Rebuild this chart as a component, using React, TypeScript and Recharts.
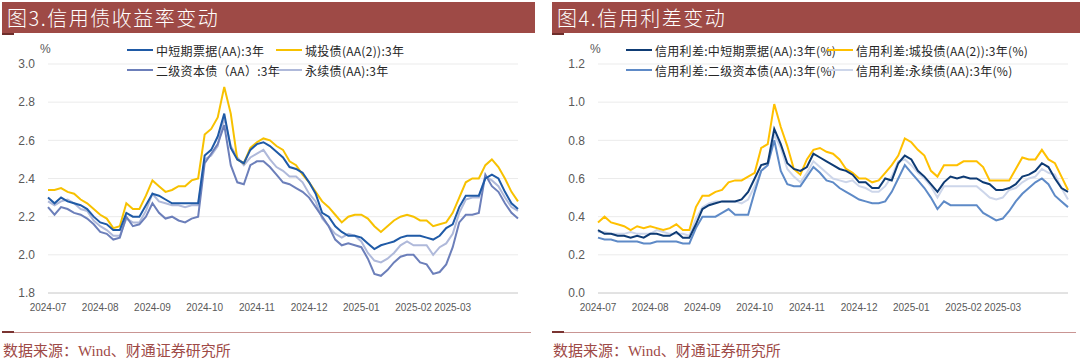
import React from 'react';
import { LineChart, Line, XAxis, YAxis, CartesianGrid } from 'recharts';

// x positions: one point every ~2-3 trading days, month starts at these indexes
const MONTHS = ['2024-07', '2024-08', '2024-09', '2024-10', '2024-11', '2024-12', '2025-01', '2025-02', '2025-03'];
const MONTH_START = [0, 8, 16, 24, 32, 40, 48, 56, 62];

// 图3 yields (%)
const L_MTN = [
  2.30, 2.27, 2.30, 2.28, 2.27, 2.26, 2.24, 2.20,
  2.17, 2.16, 2.13, 2.13, 2.22, 2.20, 2.20, 2.26,
  2.32, 2.31, 2.29, 2.27, 2.27, 2.27, 2.27, 2.27,
  2.52, 2.55, 2.62, 2.74, 2.56, 2.50, 2.48, 2.55,
  2.58, 2.59, 2.57, 2.54, 2.51, 2.46, 2.45, 2.43,
  2.38, 2.32, 2.22, 2.20, 2.15, 2.12, 2.10, 2.10,
  2.09, 2.06, 2.03, 2.05, 2.06, 2.07, 2.09, 2.10,
  2.10, 2.10, 2.09, 2.08, 2.10, 2.14,
  2.16, 2.25, 2.31, 2.31, 2.31, 2.40, 2.42, 2.40, 2.33, 2.27, 2.24,
];
const L_LGFV = [
  2.34, 2.34, 2.35, 2.33, 2.32, 2.29, 2.27, 2.24,
  2.21, 2.19, 2.14, 2.15, 2.27, 2.24, 2.24, 2.31,
  2.39, 2.36, 2.33, 2.34, 2.36, 2.36, 2.39, 2.40,
  2.63, 2.66, 2.72, 2.88, 2.74, 2.50, 2.48, 2.56,
  2.59, 2.61, 2.60, 2.57, 2.55, 2.49, 2.47, 2.42,
  2.38, 2.33, 2.28, 2.25, 2.21, 2.17, 2.20, 2.21,
  2.21, 2.19, 2.15, 2.12, 2.15, 2.18, 2.20, 2.21,
  2.20, 2.18, 2.18, 2.15, 2.16, 2.17,
  2.22, 2.30, 2.38, 2.40, 2.40, 2.47, 2.50, 2.46, 2.40, 2.33, 2.28,
];
const L_TIER2 = [
  2.25, 2.21, 2.25, 2.24, 2.22, 2.21, 2.19, 2.16,
  2.12, 2.11, 2.08, 2.09, 2.20, 2.15, 2.16, 2.20,
  2.27, 2.22, 2.19, 2.20, 2.18, 2.17, 2.19, 2.20,
  2.48, 2.53, 2.58, 2.68, 2.47, 2.38, 2.37, 2.47,
  2.49, 2.49, 2.46, 2.42, 2.38, 2.37, 2.35, 2.33,
  2.30, 2.25, 2.20, 2.15, 2.08, 2.05, 2.06, 2.05,
  2.04, 1.98, 1.90, 1.89, 1.92, 1.96, 1.99, 2.00,
  2.00, 1.96, 1.95, 1.90, 1.91, 1.95,
  2.04, 2.17, 2.21, 2.21, 2.22, 2.42, 2.36, 2.33, 2.27, 2.22, 2.19,
];
const L_PERP = [
  2.28, 2.26, 2.28, 2.29, 2.27, 2.24, 2.23, 2.18,
  2.15, 2.13, 2.10, 2.10, 2.19, 2.17, 2.17, 2.23,
  2.32, 2.28, 2.27, 2.26, 2.26, 2.25, 2.26, 2.26,
  2.50, 2.52, 2.57, 2.72, 2.57, 2.51, 2.47, 2.51,
  2.53, 2.55, 2.50, 2.46, 2.44, 2.41, 2.41, 2.38,
  2.32, 2.28, 2.19, 2.15, 2.11, 2.09, 2.11, 2.10,
  2.07, 2.01, 1.97, 1.96, 1.98, 2.01, 2.05, 2.07,
  2.05, 2.05, 2.05, 2.00, 2.04, 2.06,
  2.11, 2.22, 2.29, 2.30, 2.30, 2.41, 2.39, 2.36, 2.30, 2.25, 2.23,
];

// 图4 credit spreads (%)
const R_MTN = [
  0.33, 0.31, 0.31, 0.30, 0.30, 0.29, 0.30, 0.29,
  0.31, 0.31, 0.30, 0.30, 0.32, 0.29, 0.29, 0.36,
  0.44, 0.46, 0.47, 0.48, 0.48, 0.48, 0.49, 0.53,
  0.60, 0.67, 0.68, 0.86, 0.78, 0.68, 0.65, 0.64,
  0.66, 0.73, 0.71, 0.69, 0.67, 0.65, 0.64, 0.62,
  0.58, 0.58, 0.55, 0.55, 0.60, 0.59, 0.68, 0.72,
  0.70, 0.64, 0.61, 0.57, 0.53, 0.58, 0.61, 0.60,
  0.61, 0.60, 0.60, 0.58, 0.57, 0.54,
  0.54, 0.55, 0.57, 0.61, 0.62, 0.64, 0.68, 0.66, 0.60, 0.55, 0.53,
];
const R_LGFV = [
  0.37, 0.40, 0.37, 0.36, 0.35, 0.33, 0.35, 0.34,
  0.35, 0.34, 0.33, 0.34, 0.36, 0.33, 0.33, 0.45,
  0.51, 0.51, 0.53, 0.54, 0.58, 0.59, 0.59, 0.61,
  0.63, 0.76, 0.78, 0.99, 0.87, 0.77, 0.65, 0.62,
  0.70, 0.75, 0.76, 0.74, 0.73, 0.70, 0.65, 0.63,
  0.60, 0.60, 0.58, 0.59, 0.63, 0.67, 0.72, 0.81,
  0.79, 0.75, 0.72, 0.64, 0.61, 0.67, 0.67, 0.67,
  0.69, 0.69, 0.69, 0.66, 0.59, 0.59,
  0.59, 0.59, 0.65, 0.71, 0.70, 0.70, 0.75, 0.70, 0.68, 0.61, 0.54,
];
const R_TIER2 = [
  0.29, 0.28, 0.28, 0.27, 0.27, 0.27, 0.27, 0.26,
  0.26, 0.27, 0.27, 0.27, 0.27, 0.26, 0.26, 0.34,
  0.40, 0.40, 0.40, 0.42, 0.44, 0.41, 0.41, 0.41,
  0.53, 0.64, 0.67, 0.80, 0.64, 0.57, 0.56, 0.56,
  0.61, 0.66, 0.63, 0.59, 0.58, 0.55, 0.53, 0.51,
  0.49, 0.48, 0.47, 0.47, 0.48, 0.53, 0.60, 0.67,
  0.63, 0.59, 0.55, 0.50, 0.44, 0.48, 0.46, 0.46,
  0.46, 0.46, 0.46, 0.42, 0.40, 0.38,
  0.39, 0.43, 0.48, 0.52, 0.55, 0.58, 0.60, 0.57, 0.51, 0.48, 0.45,
];
const R_PERP = [
  0.32, 0.32, 0.31, 0.31, 0.31, 0.32, 0.31, 0.31,
  0.31, 0.33, 0.32, 0.31, 0.31, 0.31, 0.30, 0.39,
  0.45, 0.47, 0.48, 0.48, 0.48, 0.48, 0.47, 0.49,
  0.56, 0.64, 0.67, 0.83, 0.76, 0.65, 0.61, 0.58,
  0.63, 0.69, 0.66, 0.63, 0.60, 0.59, 0.58, 0.59,
  0.56, 0.55, 0.53, 0.53, 0.56, 0.61, 0.69, 0.70,
  0.67, 0.63, 0.60, 0.56, 0.50, 0.56, 0.56, 0.56,
  0.56, 0.56, 0.56, 0.53, 0.50, 0.49,
  0.50, 0.54, 0.55, 0.58, 0.60, 0.61, 0.65, 0.63, 0.62, 0.55, 0.49,
];

const L_NAMES = ['中短期票据(AA):3年', '城投债(AA(2)):3年', '二级资本债（AA）:3年', '永续债(AA):3年'];
const R_NAMES = [
  '信用利差:中短期票据(AA):3年(%)',
  '信用利差:城投债(AA(2)):3年(%)',
  '信用利差:二级资本债(AA):3年(%)',
  '信用利差:永续债(AA):3年(%)',
];

const BRAND = '#9E4A46';
const CJK = '"Noto Sans CJK SC", "Noto Sans", sans-serif';
const TICK_FONT = '"Liberation Sans", Arial, sans-serif';

const build = (a: number[], b: number[], c: number[], d: number[]) =>
  a.map((v, i) => ({ i, s0: v, s1: b[i], s2: c[i], s3: d[i] }));

const leftData = build(L_MTN, L_LGFV, L_TIER2, L_PERP);
const rightData = build(R_MTN, R_LGFV, R_TIER2, R_PERP);

interface PanelProps {
  x: number;
  bannerW: number;
  title: string;
  data: any[];
  names: string[];
  colors: string[];
  domain: [number, number];
  ticks: number[];
  legendCols: [number, number];
}

function Panel({ x, bannerW, title, data, names, colors, domain, ticks, legendCols }: PanelProps) {
  const legendItem = (k: number, col: number, y: number) => (
    <div key={k} style={{ position: 'absolute', left: col, top: y - 8, height: 16, display: 'flex', alignItems: 'center', whiteSpace: 'nowrap' }}>
      <div style={{ width: 26, height: 2, background: colors[k], marginRight: 3 }} />
      <span style={{ fontFamily: CJK, fontSize: 12, color: '#262626', letterSpacing: 0.3 }}>{names[k]}</span>
    </div>
  );

  return (
    <div style={{ position: 'absolute', left: x, top: 0, width: 540, height: 358 }}>
      <div style={{ position: 'absolute', left: 2, top: 2, width: bannerW, height: 31, background: BRAND }} />
      <div style={{ position: 'absolute', left: 2, top: 33, width: 12, height: 2, background: '#6E2E2B' }} />
      <div style={{ position: 'absolute', left: 7, top: 4, height: 28, lineHeight: '28px', color: '#fff', fontFamily: CJK, fontSize: 20, fontWeight: 300, letterSpacing: 1.5 }}>
        {title}
      </div>

      <div style={{ position: 'absolute', left: 40, top: 42, fontFamily: TICK_FONT, fontSize: 12, color: '#595959' }}>%</div>

      <div style={{ position: 'absolute', left: 0, top: 40 }}>
        <LineChart width={540} height={278} data={data} margin={{ top: 24, right: 22, bottom: 5, left: 0 }}>
          <CartesianGrid horizontal vertical={false} stroke="#EBEBEB" />
          <XAxis
            dataKey="i"
            type="number"
            domain={[0, data.length - 1]}
            ticks={MONTH_START}
            tickFormatter={(v: number) => MONTHS[MONTH_START.indexOf(v)] ?? ''}
            interval={0}
            tickLine={false}
            axisLine={{ stroke: '#D0D0D0' }}
            tickMargin={5}
            tick={{ fontSize: 10, fill: '#595959', fontFamily: TICK_FONT }}
            height={20}
          />
          <YAxis
            type="number"
            domain={domain}
            ticks={ticks}
            interval={0}
            tickFormatter={(v: number) => v.toFixed(1)}
            tickLine={false}
            axisLine={false}
            tickMargin={7}
            tick={{ fontSize: 12, fill: '#595959', fontFamily: TICK_FONT }}
            width={48}
          />
          <Line dataKey="s3" stroke={colors[3]} strokeWidth={2} dot={false} isAnimationActive={false} />
          <Line dataKey="s2" stroke={colors[2]} strokeWidth={2} dot={false} isAnimationActive={false} />
          <Line dataKey="s1" stroke={colors[1]} strokeWidth={2} dot={false} isAnimationActive={false} />
          <Line dataKey="s0" stroke={colors[0]} strokeWidth={2} dot={false} isAnimationActive={false} />
        </LineChart>
      </div>

      {legendItem(0, legendCols[0], 50)}
      {legendItem(1, legendCols[1], 50)}
      {legendItem(2, legendCols[0], 70)}
      {legendItem(3, legendCols[1], 70)}

      <div style={{ position: 'absolute', left: 2, top: 332, width: bannerW - 4, height: 1, background: '#C99593' }} />
      <div style={{ position: 'absolute', left: 2, top: 331, width: 12, height: 2, background: '#7A3431' }} />
      <div style={{ position: 'absolute', left: 3, top: 339, fontFamily: '"Liberation Serif", "Noto Sans CJK SC", serif', fontSize: 15, color: BRAND, whiteSpace: 'nowrap' }}>
        数据来源：Wind、财通证券研究所
      </div>
    </div>
  );
}

export default function App() {
  return (
    <div style={{ position: 'absolute', left: 0, top: 0, width: 1080, height: 358, background: '#fff', overflow: 'hidden' }}>
      <Panel
        x={0}
        bannerW={533}
        title="图3.信用债收益率变动"
        data={leftData}
        names={L_NAMES}
        colors={['#1F5AA6', '#F7C100', '#6C7FBA', '#AFB9DA']}
        domain={[1.8, 3.0]}
        ticks={[1.8, 2.0, 2.2, 2.4, 2.6, 2.8, 3.0]}
        legendCols={[127, 276]}
      />
      <Panel
        x={550}
        bannerW={528}
        title="图4.信用利差变动"
        data={rightData}
        names={R_NAMES}
        colors={['#0E3B74', '#FFC000', '#5E8AC7', '#CDD6EA']}
        domain={[0, 1.2]}
        ticks={[0, 0.2, 0.4, 0.6, 0.8, 1.0, 1.2]}
        legendCols={[76, 277]}
      />
    </div>
  );
}
